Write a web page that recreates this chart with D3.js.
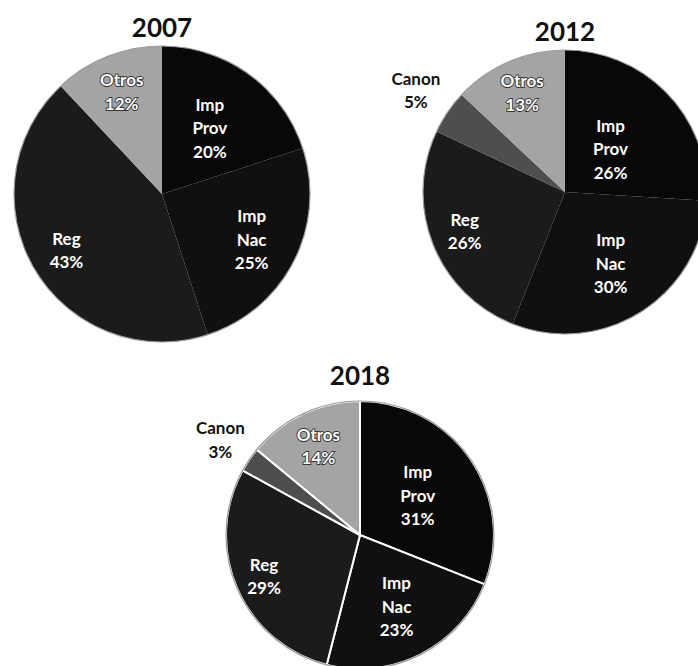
<!DOCTYPE html>
<html>
<head>
<meta charset="utf-8">
<script src="https://cdn.jsdelivr.net/npm/d3@7"></script>
<style>
  body { margin: 0; background: #fff; }
  svg { display: block; font-family: Lato, "Open Sans", sans-serif; }
</style>
</head>
<body>
<svg id="chart" width="698" height="666"></svg>
<script>
// data
const years = ['2007', '2012', '2018'];

const categories2007 = ['Imp Prov', 'Imp Nac', 'Reg', 'Otros'];
const values2007 = [20, 25, 43, 12];

const categories2012 = ['Imp Prov', 'Imp Nac', 'Reg', 'Canon', 'Otros'];
const values2012 = [26, 30, 26, 5, 13];

const categories2018 = ['Imp Prov', 'Imp Nac', 'Reg', 'Canon', 'Otros'];
const values2018 = [31, 23, 29, 3, 14];

// greys of the scan
const fills = {
  'Imp Prov': '#080808',
  'Imp Nac': '#101010',
  'Reg': '#1b1b1b',
  'Canon': '#4e4e4e',
  'Otros': '#a4a4a4'
};

// layout of each pie; lr = label radius (share of r) per slice
const layout = [
  { cx: 162, cy: 194, r: 148, ty: 37, gap: 0, lr: [0.55, 0.68, 0.75, 0.74] },
  { cx: 565, cy: 192, r: 142, ty: 41, gap: 0, lr: [0.44, 0.6, 0.76, 1.27, 0.76] },
  { cx: 360, cy: 535, r: 134, ty: 385, gap: 2, lr: [0.52, 0.6, 0.78, 1.26, 0.73] }
];

const series = [
  { cats: categories2007, vals: values2007 },
  { cats: categories2012, vals: values2012 },
  { cats: categories2018, vals: values2018 }
];

const svg = d3.select('#chart');

series.forEach(function(s, i) {
  let L = layout[i];
  let rows = s.cats.map((c, j) => ({ name: c, value: s.vals[j], lr: L.lr[j] }));

  let pie = d3.pie().sort(null).value(d => d.value);
  let arcs = pie(rows);
  let arc = d3.arc().innerRadius(0).outerRadius(L.r);

  let g = svg.append('g').attr('transform', 'translate(' + L.cx + ',' + L.cy + ')');

  g.selectAll('path.slice')
    .data(arcs)
    .enter()
    .append('path')
    .attr('class', 'slice')
    .attr('d', arc)
    .attr('fill', d => fills[d.data.name])
    .attr('stroke', L.gap ? '#fff' : 'none')
    .attr('stroke-width', L.gap);

  // soft grey rim like the scan
  g.append('circle')
    .attr('r', L.r)
    .attr('fill', 'none')
    .attr('stroke', '#9a9a9a')
    .attr('stroke-width', 1.2);

  svg.append('text')
    .attr('x', L.cx)
    .attr('y', L.ty)
    .attr('text-anchor', 'middle')
    .attr('font-size', 26)
    .attr('font-weight', 'bold')
    .attr('fill', '#111')
    .text(years[i]);

  let lab = g.selectAll('text.lab')
    .data(arcs)
    .enter()
    .append('text')
    .attr('class', 'lab')
    .attr('transform', function(d) {
      let lr = L.r * d.data.lr;
      let c = d3.arc().innerRadius(lr).outerRadius(lr).centroid(d);
      return 'translate(' + c[0] + ',' + c[1] + ')';
    })
    .attr('text-anchor', 'middle')
    .attr('font-size', 17)
    .attr('font-weight', 'bold')
    .attr('fill', d => d.data.lr > 1 ? '#111' : '#fff')
    .attr('stroke', d => d.data.name === 'Otros' ? '#333' : 'none')
    .attr('stroke-width', 1.8)
    .attr('paint-order', 'stroke');

  lab.each(function(d) {
    let lines = d.data.name.split(' ').concat([d.data.value + '%']);
    let n = lines.length;
    d3.select(this).selectAll('tspan')
      .data(lines)
      .enter()
      .append('tspan')
      .attr('x', 0)
      .attr('y', (t, k) => (k - (n - 1) / 2) * 23.5 + 6)
      .text(t => t);
  });
});
</script>
</body>
</html>
